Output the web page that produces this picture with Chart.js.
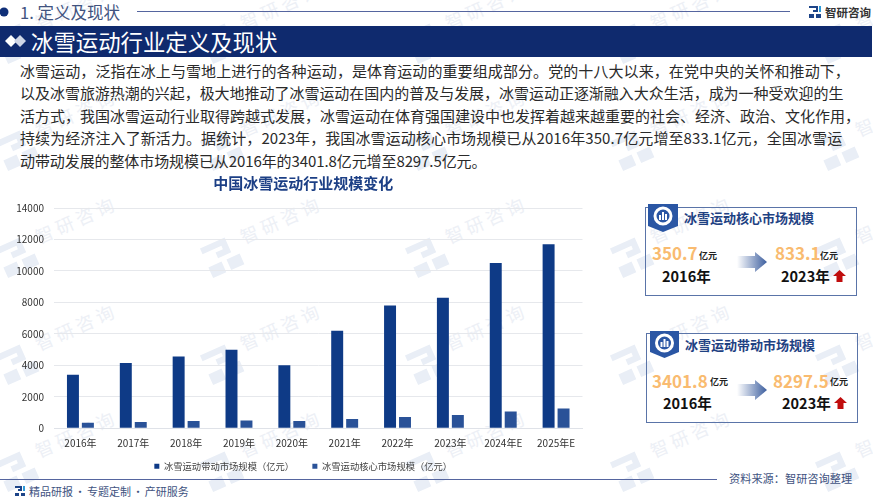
<!DOCTYPE html>
<html>
<head>
<meta charset="utf-8">
<script src="https://cdn.jsdelivr.net/npm/chart.js@4"></script>
<style>
    html, body { margin: 0; padding: 0; background: #fff; }
    body { width: 873px; height: 500px; position: relative; overflow: hidden; font-family: "Noto Sans CJK SC", "Noto Sans", sans-serif; }
    .abs { position: absolute; white-space: nowrap; }
    #marks { position: absolute; left: 0; top: 0; width: 873px; height: 500px; }
    .wm { position: absolute; color: #edf0f6; font-size: 18px; letter-spacing: 4px; transform: rotate(-24deg); white-space: nowrap; }
    .wmlogo { position: absolute; width: 40px; height: 36px; transform: rotate(-24deg); }
    .body-line { left: 20px; font-size: 15px; line-height: 22px; color: #2a2a2a; }
    .card { position: absolute; border: 1.5px solid #5a74a8; background: transparent; box-sizing: border-box; }
    .card-title { color: #1f4283; font-size: 13px; font-weight: 700; line-height: 22px; }
    .big { color: #f9bb70; font-weight: 700; font-size: 17px; line-height: 24px; }
    .unit { color: #222; font-weight: 700; font-size: 9px; line-height: 12px; }
    .year { color: #111; font-weight: 700; font-size: 14.5px; line-height: 20px; }
    #chartBox { position: absolute; left: 0; top: 172px; width: 620px; height: 309px; }
</style>
</head>
<body>
<div id="marks"></div>

<!-- top header -->
<svg class="abs" style="left:0;top:6px" width="12" height="12"><circle cx="4" cy="6" r="4.5" fill="#0f2f78"/></svg>
<div class="abs" style="left:20px;top:0;font-size:16.5px;line-height:24px;color:#41537f">1. 定义及现状</div>
<div class="abs" style="left:137px;top:11px;width:653px;height:1px;background:#55659f"></div>
<svg class="abs" style="left:808px;top:5px" width="14" height="14">
    <path d="M1 1H10V7H5V5H8V3H1ZM1 9H6V13H1ZM8 9H13V13H8Z" fill="#1d4488"/><path d="M11 1H13V7H11Z" fill="#2e9bd8"/>
</svg>
<div class="abs" style="left:825px;top:1px;font-size:11.5px;line-height:22px;font-weight:700;color:#333">智研咨询</div>

<!-- banner -->
<div class="abs" style="left:0;top:26px;width:872px;height:31px;background:#0f2a6e"></div>
<svg class="abs" style="left:4px;top:33px" width="22" height="16">
    <path d="M1 8L7 2L13 8L7 14Z" fill="#fff"/><path d="M10 8L16 2L22 8L16 14Z" fill="#cfd6e6"/>
</svg>
<div class="abs" style="left:31px;top:26px;font-size:22.4px;line-height:31px;color:#fff">冰雪运动行业定义及现状</div>

<!-- body text -->
<div class="abs body-line" style="top:60px;letter-spacing:.09px">冰雪运动，泛指在冰上与雪地上进行的各种运动，是体育运动的重要组成部分。党的十八大以来，在党中央的关怀和推动下，</div>
<div class="abs body-line" style="top:82px;letter-spacing:-.03px">以及冰雪旅游热潮的兴起，极大地推动了冰雪运动在国内的普及与发展，冰雪运动正逐渐融入大众生活，成为一种受欢迎的生</div>
<div class="abs body-line" style="top:105px">活方式，我国冰雪运动行业取得跨越式发展，冰雪运动在体育强国建设中也发挥着越来越重要的社会、经济、政治、文化作用，</div>
<div class="abs body-line" style="top:127px;letter-spacing:.09px">持续为经济注入了新活力。据统计，2023年，我国冰雪运动核心市场规模已从2016年350.7亿元增至833.1亿元，全国冰雪运</div>
<div class="abs body-line" style="top:150px;letter-spacing:-.09px">动带动发展的整体市场规模已从2016年的3401.8亿元增至8297.5亿元。</div>

<!-- chart -->
<div id="chartBox"><canvas id="sizeChart" width="620" height="309"></canvas></div>

<!-- side cards -->
<div class="card" style="left:645px;top:207px;width:212px;height:89px"></div>
<svg class="abs" style="left:648px;top:204px" width="31" height="30">
    <path d="M0 0H30V22L15 28L0 22Z" fill="#2a56a4"/><circle cx="15" cy="12" r="8" fill="none" stroke="#fff" stroke-width="3"/>
    <path d="M11 16V11H13V16ZM14 16V8H16V16ZM17 16V10H19V16Z" fill="#fff"/>
</svg>
<div class="abs card-title" style="left:684px;top:207px">冰雪运动核心市场规模</div>
<div class="abs big" style="left:652px;top:241px">350.7</div>
<div class="abs unit" style="left:699px;top:250px">亿元</div>
<div class="abs year" style="left:662px;top:266px">2016年</div>
<div class="abs big" style="left:775px;top:241px">833.1</div>
<div class="abs unit" style="left:820px;top:250px">亿元</div>
<div class="abs year" style="left:781px;top:266px">2023年</div>
<svg class="abs" style="left:737px;top:252px" width="31" height="21">
    <defs><linearGradient id="ga"><stop offset="0" stop-color="#fff"/><stop offset="1" stop-color="#3d5f9f"/></linearGradient></defs>
    <path d="M0 4H18V0L30 10L18 20V16H0Z" fill="url(#ga)"/>
</svg>
<svg class="abs" style="left:833px;top:270px" width="14" height="13"><path d="M6.5 0L13 6H9.5V12H3.5V6H0Z" fill="#c00d0d"/></svg>

<div class="card" style="left:646px;top:333px;width:212px;height:90px"></div>
<svg class="abs" style="left:650px;top:331px" width="31" height="30">
    <path d="M0 0H29V21L14.5 27L0 21Z" fill="#2a56a4"/><circle cx="14.5" cy="12" r="8" fill="none" stroke="#fff" stroke-width="3"/>
    <path d="M10.5 16V11H12.5V16ZM13.5 16V8H15.5V16ZM16.5 16V10H18.5V16Z" fill="#fff"/>
</svg>
<div class="abs card-title" style="left:685px;top:334px">冰雪运动带动市场规模</div>
<div class="abs big" style="left:652px;top:369px">3401.8</div>
<div class="abs unit" style="left:710px;top:376px">亿元</div>
<div class="abs year" style="left:663px;top:393px">2016年</div>
<div class="abs big" style="left:773px;top:369px">8297.5</div>
<div class="abs unit" style="left:830px;top:376px">亿元</div>
<div class="abs year" style="left:782px;top:393px">2023年</div>
<svg class="abs" style="left:737px;top:380px" width="31" height="21">
    <defs><linearGradient id="gb"><stop offset="0" stop-color="#fff"/><stop offset="1" stop-color="#3d5f9f"/></linearGradient></defs>
    <path d="M0 4H18V0L30 10L18 20V16H0Z" fill="url(#gb)"/>
</svg>
<svg class="abs" style="left:834px;top:397px" width="14" height="13"><path d="M6.5 0L13 6H9.5V12H3.5V6H0Z" fill="#c00d0d"/></svg>

<!-- footer -->
<div class="abs" style="left:0;top:479px;width:717px;height:1px;background:#55659f"></div>
<svg class="abs" style="left:14px;top:485px" width="12" height="12">
    <path d="M1 1H8V6H4V4H6V3H1ZM1 8H5V11H1ZM7 8H11V11H7Z" fill="#1d4488"/><path d="M9 1H11V6H9Z" fill="#2e9bd8"/>
</svg>
<div class="abs" style="left:29px;top:481px;font-size:11px;word-spacing:-1px;line-height:20px;color:#41537f">精品研报 · 专题定制 · 产研服务</div>
<div class="abs" style="left:729px;top:468px;font-size:11.2px;line-height:20px;color:#41537f">资料来源：智研咨询整理</div>

<script>
// --- 1. Chart data ---
const years = ['2016年', '2017年', '2018年', '2019年', '2020年', '2021年', '2022年', '2023年', '2024年E', '2025年E'];
const drivenSize = [3401.8, 4150, 4560, 4980, 4000, 6200, 7800, 8297.5, 10500, 11700];
const coreSize = [350.7, 400, 450, 490, 450, 580, 720, 833.1, 1060, 1250];
const drivenLabel = '冰雪运动带动市场规模（亿元）';
const coreLabel = '冰雪运动核心市场规模（亿元）';
const chartTitle = '中国冰雪运动行业规模变化';

// --- 2. Faint watermarks behind everything ---
const marks = document.getElementById('marks');
for (let row = 0; row < 5; row++) {
    for (let col = 0; col < 5; col++) {
        const x = 10 + col * 205;
        const y = 30 + row * 107;
        marks.innerHTML += `<svg class="wmlogo" style="left:${x - 12}px;top:${y - 6}px" viewBox="0 0 44 40">
            <path d="M2 2H32V20H16V13H25V9H2ZM2 25H18V38H2ZM24 25H40V38H24Z" fill="#e9eef6"/></svg>
            <div class="wm" style="left:${x + 22}px;top:${y - 38}px">智研咨询</div>`;
    }
}

// --- 3. Bar chart ---
const cjk = '"Noto Sans CJK SC", "Noto Sans", sans-serif';
new Chart(document.getElementById('sizeChart').getContext('2d'), {
    type: 'bar',
    data: {
        labels: years,
        datasets: [
            { label: drivenLabel, data: drivenSize, backgroundColor: '#0e3a86', categoryPercentage: 0.566, barPercentage: 0.8 },
            { label: coreLabel, data: coreSize, backgroundColor: '#2a5298', categoryPercentage: 0.566, barPercentage: 0.8 }
        ]
    },
    options: {
        responsive: false,
        animation: false,
        layout: { padding: { left: 24, right: 37.5, top: 0, bottom: 0 } },
        plugins: {
            title: {
                display: true,
                text: chartTitle,
                color: '#1c3f85',
                font: { family: cjk, size: 15, weight: 'bold' },
                padding: { top: 2, bottom: 16 }
            },
            legend: {
                position: 'bottom',
                labels: {
                    usePointStyle: true,
                    pointStyle: 'rect',
                    boxWidth: 5,
                    boxHeight: 5,
                    padding: 11.5,
                    color: '#444',
                    font: { family: cjk, size: 9.3 },
                    // padding also sets the row height, so the gap between the two items comes from spaces
                    generateLabels: (chart) => Chart.defaults.plugins.legend.labels.generateLabels(chart)
                        .map((item, i) => ({ ...item, text: i === 0 ? item.text + '\u3000 ' : item.text }))
                }
            },
            tooltip: { enabled: false }
        },
        scales: {
            x: {
                grid: { display: false },
                border: { color: '#dfe2e8' },
                ticks: { padding: 1, color: '#333', font: { family: cjk, size: 10 }, maxRotation: 0, autoSkip: false }
            },
            y: {
                min: 0,
                max: 14000,
                // the axis box is narrower than its labels here (left padding centres title and legend), so turn off the label clip
                afterFit: (scale) => { scale.width = 30; scale._computeLabelArea = () => undefined; },
                grid: { color: '#e6e8ec', drawTicks: false },
                border: { display: false },
                ticks: { stepSize: 2000, padding: 10, color: '#333', font: { family: cjk, size: 10 }, callback: (v) => String(v) }
            }
        }
    }
});
</script>
</body>
</html>
